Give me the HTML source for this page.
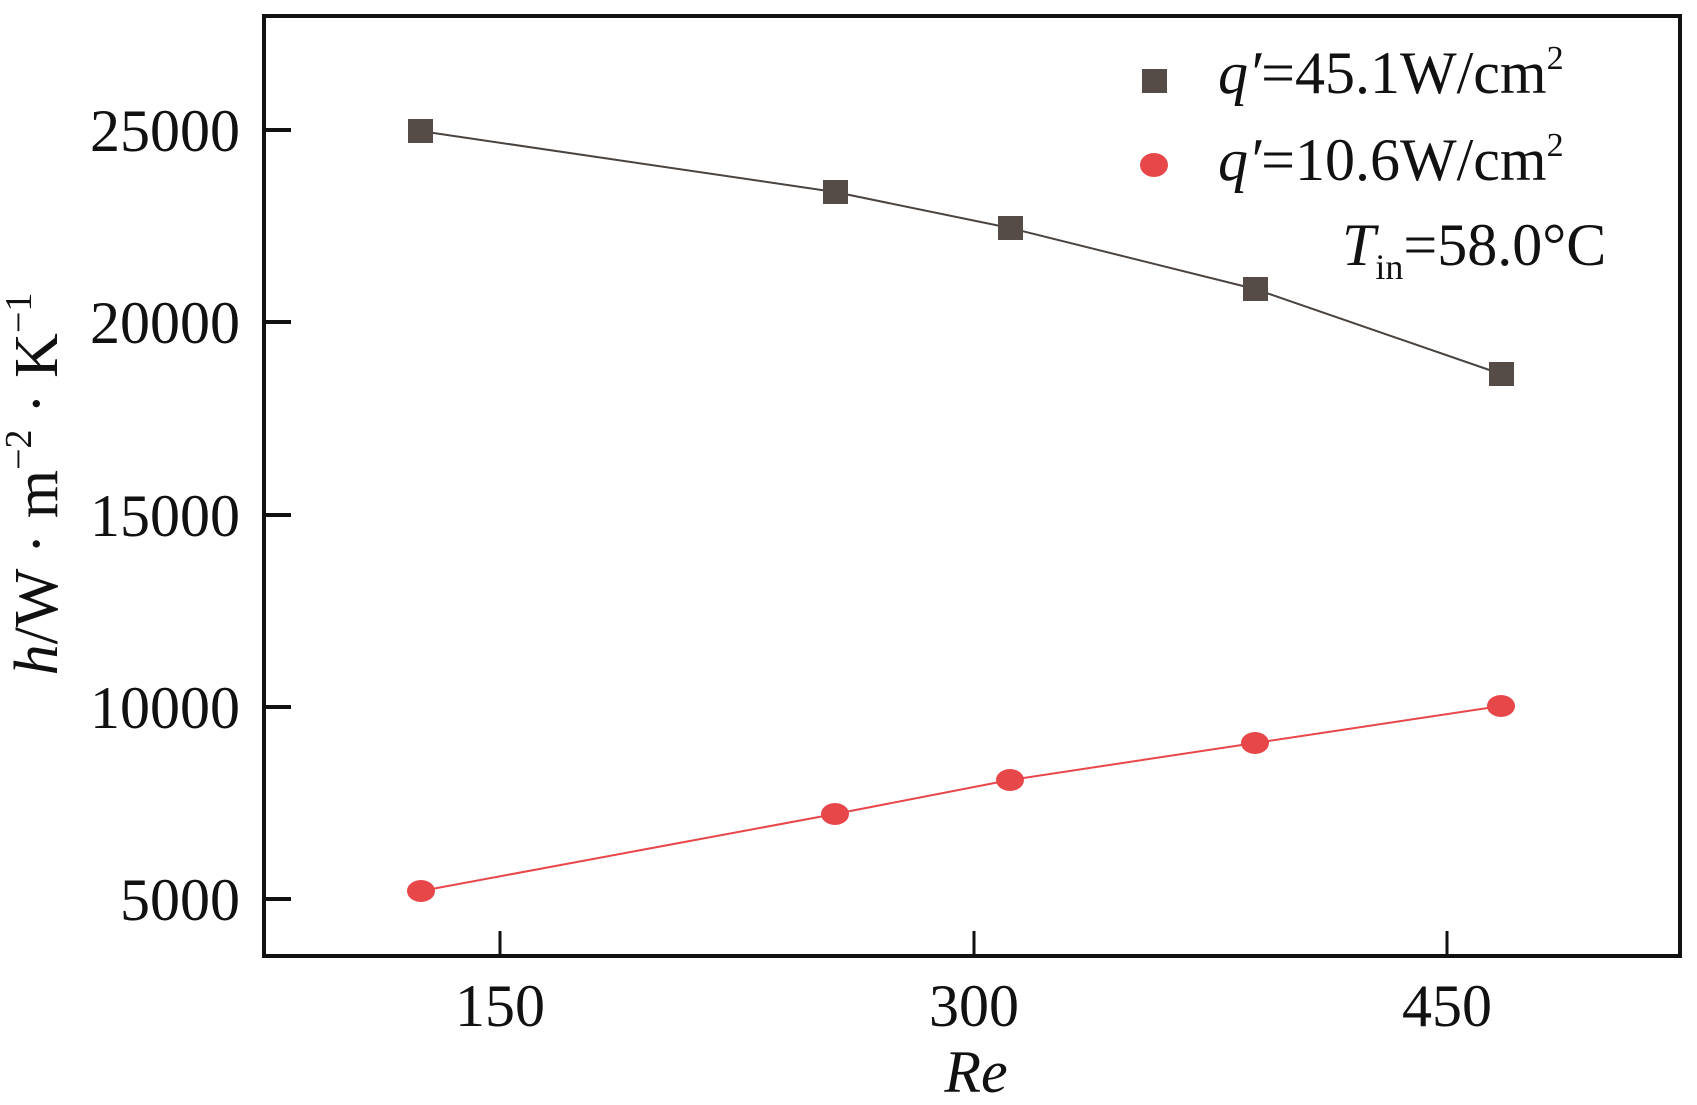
<!DOCTYPE html>
<html><head><meta charset="utf-8"><style>
html,body{margin:0;padding:0;background:#fff}
svg{display:block}
text{font-family:"Liberation Serif",serif;fill:#111}
</style></head><body>
<svg width="1697" height="1105" viewBox="0 0 1697 1105" xmlns="http://www.w3.org/2000/svg">
<rect x="264" y="16" width="1416" height="940" fill="none" stroke="#111" stroke-width="4"/>
<g stroke="#111" stroke-width="4">
<line x1="264" y1="130" x2="291" y2="130"/>
<line x1="264" y1="322" x2="291" y2="322"/>
<line x1="264" y1="515" x2="291" y2="515"/>
<line x1="264" y1="707" x2="291" y2="707"/>
<line x1="264" y1="899" x2="291" y2="899"/>
</g>
<g stroke="#111" stroke-width="3">
<line x1="500" y1="956" x2="500" y2="931"/>
<line x1="974" y1="956" x2="974" y2="931"/>
<line x1="1447" y1="956" x2="1447" y2="931"/>
</g>
<g font-size="60" text-anchor="end">
<text x="240" y="151">25000</text>
<text x="240" y="343">20000</text>
<text x="240" y="536">15000</text>
<text x="240" y="728">10000</text>
<text x="240" y="920">5000</text>
</g>
<g font-size="60" text-anchor="middle">
<text x="500" y="1026">150</text>
<text x="974" y="1026">300</text>
<text x="1447" y="1026">450</text>
<text x="976" y="1092" font-style="italic">Re</text>
</g>
<text transform="translate(57,484) rotate(-90)" font-size="62" text-anchor="middle"><tspan font-style="italic">h</tspan>/W · m<tspan font-size="38" dy="-26">−2</tspan><tspan dy="26"> · K</tspan><tspan font-size="38" dy="-26">−1</tspan></text>
<polyline points="420,131 835,192 1010,228 1255,289 1501,374" fill="none" stroke="#4a4440" stroke-width="2"/>
<polyline points="421,891 835,814 1010,780 1255,743 1501,706" fill="none" stroke="#e8474a" stroke-width="2"/>
<g fill="#554c48">
<rect x="408" y="119" width="25" height="24"/>
<rect x="823" y="180" width="25" height="24"/>
<rect x="998" y="216" width="25" height="24"/>
<rect x="1243" y="277" width="25" height="24"/>
<rect x="1489" y="362" width="25" height="24"/>
<rect x="1142" y="69" width="25" height="24"/>
</g>
<g fill="#e8474a">
<ellipse cx="421" cy="891" rx="14" ry="11"/>
<ellipse cx="835" cy="814" rx="14" ry="11"/>
<ellipse cx="1010" cy="780" rx="14" ry="11"/>
<ellipse cx="1255" cy="743" rx="14" ry="11"/>
<ellipse cx="1501" cy="706" rx="14" ry="11"/>
<ellipse cx="1154" cy="165" rx="14" ry="12"/>
</g>
<g font-size="60">
<text x="1218" y="93"><tspan font-style="italic">q′</tspan>=45.1W/cm<tspan font-size="34" dy="-24">2</tspan></text>
<text x="1218" y="180"><tspan font-style="italic">q′</tspan>=10.6W/cm<tspan font-size="34" dy="-24">2</tspan></text>
<text x="1342" y="265"><tspan font-style="italic">T</tspan><tspan font-size="36" dy="14">in</tspan><tspan dy="-14">=58.0°C</tspan></text>
</g>
</svg>
</body></html>
